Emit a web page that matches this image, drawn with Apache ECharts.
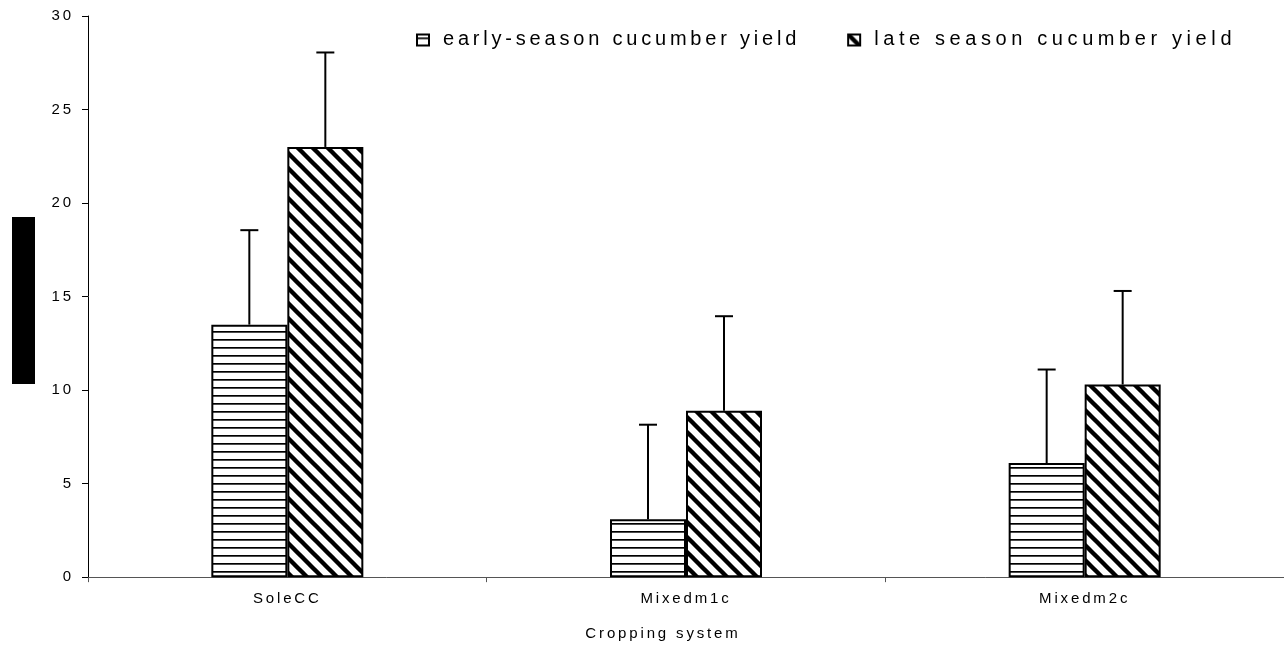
<!DOCTYPE html>
<html>
<head>
<meta charset="utf-8">
<script src="https://cdn.jsdelivr.net/npm/echarts@6/dist/echarts.min.js"></script>
<style>
html,body{margin:0;padding:0;background:#fff;}
#chart{width:1284px;height:648px;}
</style>
</head>
<body>
<div id="chart"></div>
<script>
// ---- data ----
var categories = ['SoleCC', 'Mixedm1c', 'Mixedm2c'];
var seriesNames = ['early-season cucumber yield', 'late season cucumber yield'];
var earlyYield = [13.5, 3.1, 6.1];
var earlyErr = [5.05, 5.05, 5.0];
var lateYield = [23.0, 8.9, 10.3];
var lateErr = [5.05, 5.05, 5.0];
var yTicks = [0, 5, 10, 15, 20, 25, 30];
var xAxisTitle = 'Cropping system';

// ---- wide letter spacing, as in the reference typesetting ----
(function () {
  var P = CanvasRenderingContext2D.prototype;
  var extraSpacing = {'late season cucumber yield': 0.8};
  function setLS(ctx, text) {
    var m = /(\d+(?:\.\d+)?)px/.exec(ctx.font);
    if (m && 'letterSpacing' in ctx) {
      var ls = parseFloat(m[1]) * 0.19 + (extraSpacing[text] || 0);
      ctx.letterSpacing = ls.toFixed(2) + 'px';
    }
  }
  var ft = P.fillText; P.fillText = function (t) { setLS(this, t); return ft.apply(this, arguments); };
  var st = P.strokeText; P.strokeText = function (t) { setLS(this, t); return st.apply(this, arguments); };
  var mt = P.measureText; P.measureText = function (t) { setLS(this, t); return mt.apply(this, arguments); };
})();

// ---- patterns ----
function hPattern() {
  var c = document.createElement('canvas');
  c.width = 8; c.height = 8;
  var g = c.getContext('2d');
  g.fillStyle = '#fff'; g.fillRect(0, 0, 8, 8);
  g.fillStyle = '#000'; g.fillRect(0, 3, 8, 1.7);
  return c;
}
function dPattern() {
  var s = 15;
  var c = document.createElement('canvas');
  c.width = s; c.height = s;
  var g = c.getContext('2d');
  g.fillStyle = '#fff'; g.fillRect(0, 0, s, s);
  g.strokeStyle = '#000'; g.lineWidth = 4.4;
  for (var k = -1; k <= 1; k++) {
    g.beginPath();
    g.moveTo(k * s - 2, -2);
    g.lineTo(k * s + s + 2, s + 2);
    g.stroke();
  }
  return c;
}
var earlyFill = {image: hPattern(), repeat: 'repeat'};
var lateFill = {image: dPattern(), repeat: 'repeat'};

var BAR_W = 76;

function errSeries(vals, errs, offset) {
  var d = vals.map(function (v, i) { return [i, v, v + errs[i]]; });
  return {
    type: 'custom',
    silent: true,
    z: 1,
    data: d,
    renderItem: function (params, api) {
      var base = api.coord([api.value(0), api.value(1)]);
      var top = api.coord([api.value(0), api.value(2)]);
      var x = base[0] + offset;
      return {
        type: 'group',
        children: [
          {type: 'line', shape: {x1: x, y1: base[1], x2: x, y2: top[1]}, style: {stroke: '#000', lineWidth: 2}},
          {type: 'line', shape: {x1: x - 9, y1: top[1], x2: x + 9, y2: top[1]}, style: {stroke: '#000', lineWidth: 2}}
        ]
      };
    }
  };
}

var chart = echarts.init(document.getElementById('chart'), null, {renderer: 'canvas'});
var font = '"Liberation Sans", Arial, sans-serif';
chart.setOption({
  animation: false,
  backgroundColor: '#fff',
  textStyle: {fontFamily: font},
  grid: {left: 88, right: 0, top: 16, bottom: 65, containLabel: false},
  legend: {
    left: 416, top: 28, padding: 0,
    itemWidth: 12, itemHeight: 11,
    itemGap: 47,
    icon: 'rect',
    textStyle: {fontFamily: font, fontSize: 20, color: '#000', padding: [0, 0, 0, 9]},
    data: seriesNames
  },
  graphic: [
    {type: 'rect', left: 12, top: 217, shape: {width: 23, height: 167}, style: {fill: '#000'}}
  ],
  xAxis: {
    type: 'category',
    data: categories,
    axisLine: {lineStyle: {color: '#555', width: 1}},
    axisTick: {show: true, length: 5, lineStyle: {color: '#555'}},
    axisLabel: {color: '#000', fontSize: 15, margin: 13, fontFamily: font},
    name: xAxisTitle,
    nameLocation: 'middle',
    nameGap: 48,
    nameTextStyle: {color: '#000', fontSize: 15, fontFamily: font, padding: [0, 46, 0, 0]}
  },
  yAxis: {
    type: 'value',
    min: yTicks[0], max: yTicks[yTicks.length - 1], interval: yTicks[1] - yTicks[0],
    axisLine: {show: true, lineStyle: {color: '#000', width: 1}},
    axisTick: {show: true, length: 6, lineStyle: {color: '#000'}},
    splitLine: {show: false},
    axisLabel: {color: '#000', fontSize: 15, margin: 14, fontFamily: font}
  },
  series: [
    {
      name: seriesNames[0], type: 'bar', data: earlyYield, barWidth: BAR_W, barGap: '0%', z: 2,
      itemStyle: {color: earlyFill, borderColor: '#000', borderWidth: 2}
    },
    {
      name: seriesNames[1], type: 'bar', data: lateYield, barWidth: BAR_W, barGap: '0%', z: 2,
      itemStyle: {color: lateFill, borderColor: '#000', borderWidth: 2}
    },
    errSeries(earlyYield, earlyErr, -BAR_W / 2),
    errSeries(lateYield, lateErr, BAR_W / 2)
  ]
});
</script>
</body>
</html>
